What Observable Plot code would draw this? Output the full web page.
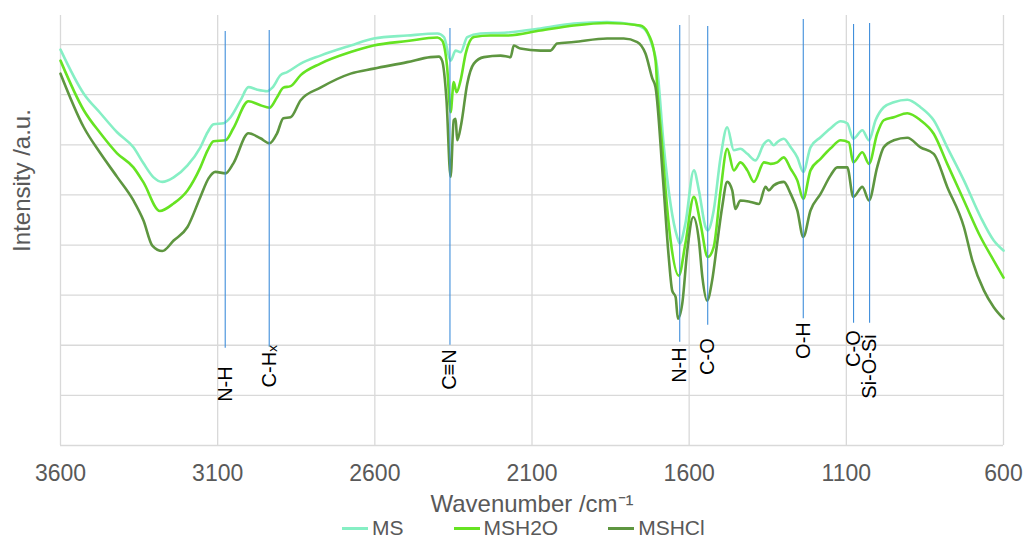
<!DOCTYPE html>
<html><head><meta charset="utf-8">
<script src="https://cdn.jsdelivr.net/npm/d3@7"></script>
<script src="https://cdn.jsdelivr.net/npm/@observablehq/plot@0.6"></script>
<style>
body{margin:0;background:#fff;font-family:"Liberation Sans",Arial,sans-serif;}
#wrap{position:relative;width:1025px;height:538px;overflow:hidden;background:#fff;}
#legend{position:absolute;left:342px;top:519px;display:flex;align-items:center;font-size:21px;line-height:18px;color:#595959;white-space:nowrap;}
.item{display:flex;align-items:center;margin-right:50px;}
.sw{width:26px;height:3px;margin-right:4px;}
</style></head><body><div id="wrap"><div id="chart"></div><div id="legend"></div></div>
<script>
// Series names and colours
const seriesNames = ["MS", "MSH2O", "MSHCl"];
const seriesColors = ["#86EFC4", "#66E322", "#5E9640"];

// Axis ticks
const xTicks = [3600, 3100, 2600, 2100, 1600, 1100, 600];
const yGrid = [0, 10, 20, 30, 40, 50, 60, 70, 80];

// MS spectrum (wavenumber cm-1, intensity a.u.)
const msWn = [3600,3526,3473,3420,3368,3336,3304,3276,3240,3196,3155,3132,3113,3081,3059,3027,3002,2974,2942,2926,2900,2879,2836,2773,2677,2604,2497,2401,2380,2359,2343,2327,2306,2264,2179,2073,1967,1861,1776,1744,1723,1702,1681,1659,1638,1630,1612,1585,1569,1548,1541,1522,1500,1479,1458,1437,1415,1389,1362,1347,1331,1320,1299,1277,1256,1237,1214,1182,1150,1118,1097,1078,1049,1028,1007,981,949,906,864,822,779,726,673,631,600];
const msI = [79.0,70.2,66.3,62.5,59.5,56.3,53.5,52.6,53.5,55.9,59.5,62.5,64.1,64.3,65.5,68.9,71.5,71.0,70.7,71.4,73.9,74.5,76.2,77.8,79.8,81.2,81.8,82.2,81.5,76.8,78.8,78.5,81.5,82.2,82.4,83.2,84.2,84.5,84.0,83.2,80.8,75.5,59.9,48.1,41.6,40.3,44.3,54.9,50.9,43.6,42.9,46.9,57.5,63.5,58.9,59.2,58.2,56.9,60.2,60.9,59.9,60.5,61.2,59.5,57.5,54.6,59.5,61.5,63.3,64.7,64.3,61.2,62.9,60.9,64.9,67.5,68.5,69.0,67.5,64.9,59.5,52.9,45.6,40.9,38.9];

// MSH2O spectrum
const h2oWn = [3600,3526,3473,3420,3368,3336,3284,3240,3196,3155,3132,3113,3075,3050,3002,2964,2935,2911,2891,2868,2836,2773,2677,2604,2497,2401,2386,2370,2359,2349,2340,2327,2311,2285,2232,2179,2073,1967,1861,1755,1733,1707,1701,1686,1675,1659,1633,1612,1585,1564,1541,1522,1500,1479,1458,1437,1415,1394,1362,1341,1320,1299,1277,1256,1237,1214,1182,1150,1118,1092,1078,1049,1028,1002,981,949,906,864,822,779,726,673,631,600];
const h2oI = [76.8,66.9,62.3,58.3,55.5,52.5,46.8,48.3,50.9,55.5,58.9,60.7,60.9,63.3,68.7,67.9,67.4,69.5,71.4,71.7,73.9,76.2,78.5,79.8,80.7,81.4,80.8,75.5,66.5,72.5,70.5,72.9,78.2,81.5,81.8,81.8,82.8,83.8,84.3,83.8,82.5,76.8,70.9,59.9,50.9,40.9,33.9,40.3,49.6,44.3,37.6,39.6,50.9,59.2,54.9,56.5,54.9,52.6,56.5,56.2,56.5,57.5,55.2,52.9,49.2,54.9,57.2,59.3,60.9,60.5,56.5,58.5,56.2,62.2,64.9,65.5,66.3,64.9,62.2,56.2,48.9,41.6,36.9,33.5];

// MSHCl spectrum
const hclWn = [3600,3526,3473,3420,3368,3336,3308,3276,3240,3196,3155,3129,3107,3075,3050,3002,2964,2935,2911,2891,2868,2836,2773,2677,2603,2497,2423,2396,2386,2372,2359,2349,2343,2338,2325,2306,2285,2253,2200,2168,2158,2137,2073,2041,2020,1967,1861,1808,1765,1739,1717,1707,1683,1665,1654,1643,1636,1622,1606,1587,1569,1558,1543,1527,1511,1495,1479,1463,1453,1437,1405,1378,1357,1347,1331,1299,1277,1256,1237,1214,1182,1150,1129,1097,1078,1049,1028,1002,981,949,906,864,822,779,726,699,662,631,600];
const hclI = [74.2,63.5,58.3,53.6,48.9,44.9,39.9,38.8,40.9,43.6,49.6,53.3,54.6,54.3,56.3,62.3,61.3,60.3,62.3,65.3,65.5,68.9,71.4,74.2,75.2,76.5,77.5,77.6,76.8,68.9,53.6,64.9,65.2,60.9,64.2,72.2,76.2,77.5,77.8,77.5,79.8,79.2,78.8,78.8,80.2,80.5,81.2,81.2,80.5,78.2,73.2,71.5,52.9,37.6,30.9,29.6,25.3,28.3,38.9,45.6,40.9,33.6,28.9,32.9,40.3,47.6,52.6,50.9,47.2,48.9,48.6,48.2,51.6,50.9,51.9,52.6,50.2,46.9,41.6,46.9,50.2,53.9,55.5,55.5,49.6,51.6,48.9,55.5,59.5,60.9,61.4,59.5,58.2,51.6,43.6,36.9,30.9,27.6,25.3];

// Band assignments
const bandWn = [3076, 2936, 2361, 1630, 1541, 1237, 1077, 1026];
const bandLabel = ["N-H", "C-Hₓ", "C≡N", "N-H", "C-O", "O-H", "C-O", "Si-O-Si"];
const bandTop = [82.6, 82.8, 83.2, 83.8, 83.6, 85.0, 84.0, 84.2];
const bandBottom = [19.4, 19.6, 20.0, 20.6, 24.0, 25.3, 24.4, 24.4];
const bandLabelAt = [15.8, 20.0, 19.2, 19.6, 21.4, 24.6, 23.0, 22.2];

const table = [];
[[msWn, msI], [h2oWn, h2oI], [hclWn, hclI]].forEach(([w, v], k) => {
  w.forEach((x, i) => table.push({series: seriesNames[k], wn: x, v: v[i]}));
});
const bands = bandWn.map((w, i) => ({wn: w, label: bandLabel[i], top: bandTop[i], bottom: bandBottom[i], at: bandLabelAt[i]}));

const chart = Plot.plot({
  width: 1025, height: 515,
  marginLeft: 60, marginRight: 22, marginTop: 15, marginBottom: 70,
  style: {fontFamily: "Liberation Sans, Arial, sans-serif", background: "#fff", color: "#595959", overflow: "visible"},
  x: {domain: [3600, 600]},
  y: {domain: [0, 85.8], axis: null},
  color: {domain: seriesNames, range: seriesColors},
  marks: [
    Plot.ruleY(yGrid, {stroke: "#d9d9d9", strokeWidth: 1.3}),
    Plot.ruleX(xTicks, {stroke: "#d9d9d9", strokeWidth: 1.3}),
    Plot.axisX(xTicks, {tickSize: 0, tickPadding: 19, fontSize: 23, tickFormat: d => String(d), label: null}),
    Plot.line(table, {x: "wn", y: "v", z: "series", stroke: "series", strokeWidth: 2.6, curve: "monotone-x"}),
    Plot.ruleX(bands, {x: "wn", y1: "top", y2: "bottom", stroke: "#3F8EDB", strokeWidth: 1.1}),
    Plot.text(bands, {x: "wn", y: "at", text: "label", rotate: -90, textAnchor: "end", fontSize: 20, fill: "#000"}),
    Plot.text(["Wavenumber /cm⁻¹"], {text: d => d, frameAnchor: "bottom", lineAnchor: "middle", textAnchor: "middle", dy: 59, fontSize: 24, fill: "#595959"}),
    Plot.text(["Intensity /a.u."], {text: d => d, frameAnchor: "left", lineAnchor: "middle", textAnchor: "middle", dx: -38, dy: -50, rotate: -90, fontSize: 24, fill: "#595959"})
  ]
});
document.getElementById("chart").appendChild(chart);

const legend = d3.select("#legend");
seriesNames.forEach((s, i) => {
  const it = legend.append("div").attr("class", "item");
  it.append("div").attr("class", "sw").style("background", seriesColors[i]);
  it.append("span").text(s);
});
</script>
</body></html>
